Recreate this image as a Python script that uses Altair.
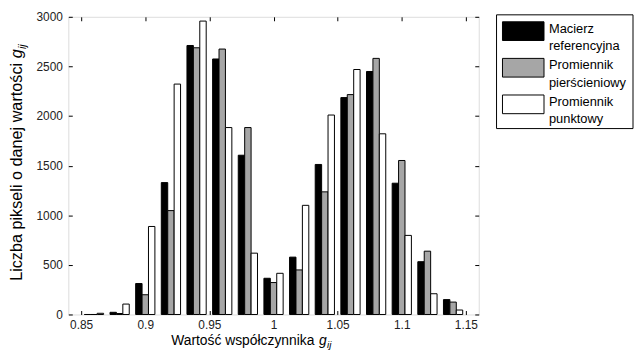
import altair as alt
import pandas as pd

# ---- data ----
g_values = [0.86, 0.88, 0.90, 0.92, 0.94, 0.96, 0.98, 1.00, 1.02, 1.04, 1.06, 1.08, 1.10, 1.12, 1.14]
macierz = [0, 22, 312, 1329, 2711, 2575, 1605, 365, 578, 1512, 2186, 2449, 1323, 532, 150]
pierscieniowy = [0, 10, 199, 1047, 2688, 2675, 1884, 322, 449, 1236, 2216, 2581, 1552, 638, 125]
punktowy = [12, 105, 887, 2322, 2957, 1884, 618, 415, 1100, 2010, 2469, 1821, 797, 209, 45]
series_names = ["Macierz|\u00a0referencyjna", "Promiennik|\u00a0pierścieniowy", "Promiennik|\u00a0punktowy"]
series_colors = ["#000000", "#a6a6a6", "#ffffff"]
x_ticks = [0.85, 0.9, 0.95, 1.0, 1.05, 1.1, 1.15]
y_ticks = [0, 500, 1000, 1500, 2000, 2500, 3000]
x_title = "Wartość współczynnika"
y_title = "Liczba pikseli o danej wartości"
sym_g = "g"
sym_ij = "ij"

rows = []
for idx, (name, vals) in enumerate(zip(series_names, [macierz, pierscieniowy, punktowy])):
    for g, v in zip(g_values, vals):
        rows.append({"g": g, "series": name, "idx": idx, "value": v})
df = pd.DataFrame(rows)
legend_df = pd.DataFrame({"series": series_names})

FONT = "Liberation Sans"
W, H = 415, 301

xscale = alt.Scale(domain=[0.84, 1.16], nice=False, zero=False)
yscale = alt.Scale(domain=[0, 3000], nice=False)
cscale = alt.Scale(domain=series_names, range=series_colors)

base = alt.Chart(df).transform_calculate(
    x1="datum.g + (datum.idx - 1) * 0.005 - 0.0025",
    x2="datum.g + (datum.idx - 1) * 0.005 + 0.0025",
)

ax_common = dict(offset=-4, tickSize=4, domain=False, grid=False, tickColor="#000",
                 labelFont=FONT, labelFontSize=12, labelColor="#222", title=None)

bars = base.mark_bar(stroke="black", strokeWidth=1, opacity=1).encode(
    x=alt.X("x1:Q", scale=xscale,
            axis=alt.Axis(orient="bottom", values=x_ticks, format="~g", labelPadding=5,
                          labelFlush=False, **ax_common)),
    x2="x2:Q",
    y=alt.Y("value:Q", scale=yscale,
            axis=alt.Axis(orient="left", values=y_ticks, format="d", labelPadding=6, **ax_common)),
    y2=alt.datum(0),
    color=alt.Color("series:N", scale=cscale, legend=None),
)

frame_axes = base.mark_bar(opacity=0).encode(
    x=alt.X("x1:Q", scale=xscale,
            axis=alt.Axis(orient="top", values=x_ticks, labels=False, **ax_common)),
    x2="x2:Q",
    y=alt.Y("value:Q", scale=yscale,
            axis=alt.Axis(orient="right", values=y_ticks, labels=False, **ax_common)),
    y2=alt.datum(0),
)

# ---- legend drawn as marks ----
tdf = pd.DataFrame({"a": [0]})
leg_y = alt.Y("series:N", axis=None,
              scale=alt.Scale(type="point", domain=series_names, range=[14.5, 88.5], padding=0))
leg_frame = alt.Chart(tdf).mark_rect(fill="white", stroke="black", strokeWidth=1).encode(
    x=alt.value(433), x2=alt.value(571), y=alt.value(-2), y2=alt.value(113))
leg_sym = alt.Chart(legend_df).mark_point(
    shape="M-1,-0.45L1,-0.45L1,0.45L-1,0.45Z", size=1764, filled=True, opacity=1,
    stroke="black", strokeWidth=1).encode(
    x=alt.value(460), y=leg_y, color=alt.Color("series:N", scale=cscale, legend=None))
leg_txt = alt.Chart(legend_df).mark_text(
    font=FONT, fontSize=13, color="#000", align="left", baseline="top",
    lineBreak="|", lineHeight=17.5, dy=-8.5).encode(
    x=alt.value(486), y=leg_y, text="series:N")


def txt(text, x, y, size, italic=False, angle=0, align="left"):
    kw = dict(font=FONT, fontSize=size, color="#000", align=align, baseline="alphabetic", text=text)
    if italic:
        kw["fontStyle"] = "italic"
    if angle:
        kw["angle"] = angle
    return alt.Chart(tdf).mark_text(**kw).encode(x=alt.value(x), y=alt.value(y))

texts = [
    txt(x_title, 104, 332, 14),
    txt(sym_g, 253.5, 332, 14, italic=True),
    txt(sym_ij, 261.5, 335, 10, italic=True),
    txt(y_title, -47, 267, 16.4, angle=270),
    txt(sym_g, -47, 41.8, 16.4, italic=True, angle=270),
    txt(sym_ij, -43, 32.6, 11, italic=True, angle=270),
]

chart = alt.layer(bars, frame_axes, leg_frame, leg_sym, leg_txt, *texts).resolve_axis(
    x="independent", y="independent"
).resolve_scale(y="independent").properties(
    width=W, height=H,
    autosize=alt.AutoSizeParams(type="none"),
    padding={"left": 61, "top": 7, "right": 157, "bottom": 34},
).configure_view(stroke="#000", strokeWidth=1).configure(background="white")

chart.save("out.html", embed_options={"renderer": "svg", "actions": False})
